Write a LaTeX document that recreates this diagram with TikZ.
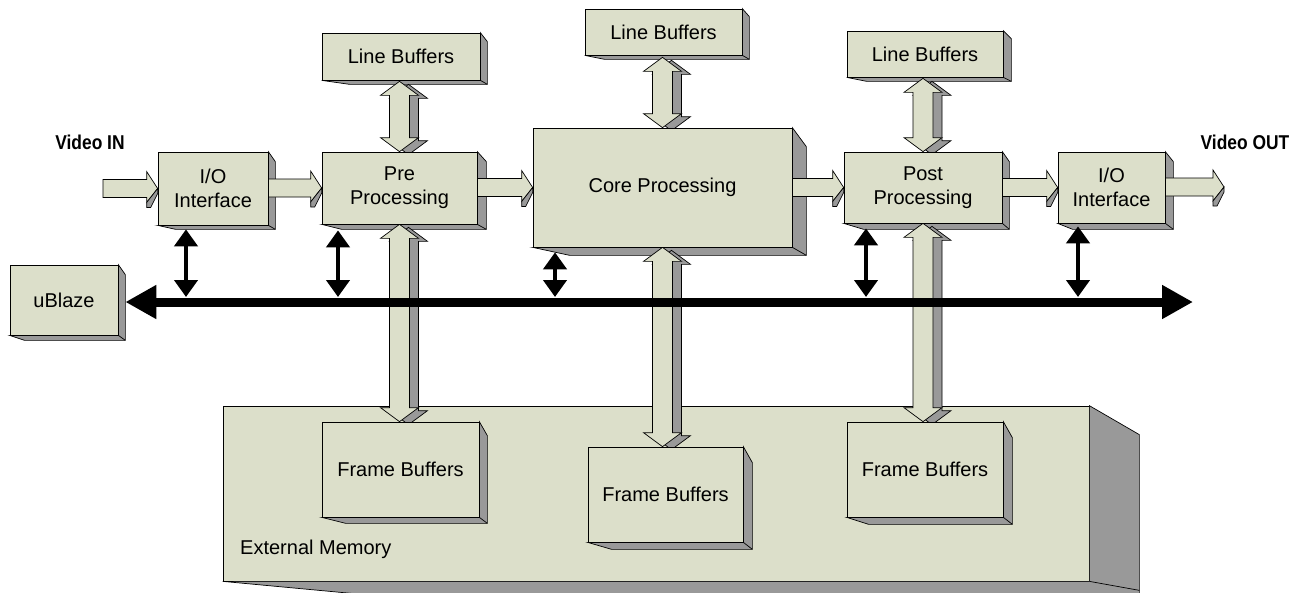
\documentclass[tikz,border=0pt]{standalone}
\usepackage{fontspec}
\setmainfont{Liberation Sans}
\newfontfamily\narrowsans[FakeStretch=0.87]{Liberation Sans}
\usetikzlibrary{calc,arrows.meta}
\pgfdeclarelayer{shadowlayer}
\pgfdeclarelayer{arrowlayer}
\pgfsetlayers{shadowlayer,arrowlayer,main}
\definecolor{face}{HTML}{DCDFCA}
\definecolor{side}{HTML}{999999}
\tikzset{
  blk/.style={draw=black, fill=face, line width=0.7pt, inner sep=0pt, align=center,
    font=\fontsize{20pt}{24pt}\selectfont},
  shadowface/.style={draw=black, fill=side, line width=0.7pt},
  arrface/.style={draw=black, fill=face, line width=0.7pt},
  arrside/.style={draw=black, fill=side, line width=0.7pt},
  bus/.style={line width=9pt, {Triangle[length=31pt,width=32pt]}-{Triangle[length=31pt,width=32pt]}},
  link/.style={line width=4.5pt, {Triangle[length=17pt,width=23pt]}-{Triangle[length=17pt,width=23pt]}},
  ttl/.style={font=\narrowsans\bfseries\fontsize{20pt}{24pt}\selectfont, inner sep=0pt},
  lbl/.style={font=\fontsize{20pt}{24pt}\selectfont, inner sep=0pt},
}
\newcommand\boxshade[5]{%
  \draw[shadowface] (#1.south west) -- ++(#5,#4) -- ($(#1.south east)+(#2,#4)$)
    -- ($(#1.north east)+(#2,#3)$) -- (#1.north east) -- (#1.south east) -- cycle;
  \draw[shadowface] (#1.south east) -- ++(#2,#4);
}
\newcommand\vshape[3]{(#1,#2) -- (#1+19pt,#2-14pt) -- (#1+10pt,#2-14pt) -- (#1+10pt,#3+14pt)
  -- (#1+19pt,#3+14pt) -- (#1,#3) -- (#1-19pt,#3+14pt) -- (#1-10pt,#3+14pt)
  -- (#1-10pt,#2-14pt) -- (#1-19pt,#2-14pt) -- cycle}
\newcommand\vbiarrow[2]{%
  \path[arrside] let \p1=#1, \p2=#2 in \vshape{\x1+9pt}{\y1-3pt}{\y2-3pt};
  \path[arrface] let \p1=#1, \p2=#2 in \vshape{\x1}{\y1}{\y2};
}
\newcommand\harrow[2]{%
  \path[arrface] let \p1=#1, \p2=#2 in (\x1,\y2+9pt) -- (\x2-11pt,\y2+9pt) -- (\x2-11pt,\y2+17pt)
    -- (\x2,\y2) -- (\x2-11pt,\y2-14pt) -- (\x2-11pt,\y2-9pt) -- (\x1,\y2-9pt) -- cycle;
  \path[arrside] let \p2=#2 in (\x2,\y2) -- (\x2,\y2-5pt) -- (\x2-7pt,\y2-19pt)
    -- (\x2-11pt,\y2-19pt) -- (\x2-11pt,\y2-14pt) -- cycle;
}
\begin{document}
\begin{tikzpicture}[x=1pt,y=-1pt]
\useasboundingbox (0,0) rectangle (1300,592);
\clip (0,0) rectangle (1300,592);

% box fronts
\node[blk, minimum width=110pt, minimum height=73pt] (io1) at (213,188.5) {I/O\\Interface};
\node[blk, minimum width=155pt, minimum height=72pt] (pre) at (399.5,188) {Pre\\Processing};
\node[blk, minimum width=158pt, minimum height=47pt] (lb1) at (401,56.5) {Line Buffers};
\node[blk, minimum width=259pt, minimum height=119pt] (core) at (662.5,187.5) {Core Processing};
\node[blk, minimum width=157pt, minimum height=46pt] (lb2) at (663.5,32) {Line Buffers};
\node[blk, minimum width=156pt, minimum height=46pt] (lb3) at (925,54) {Line Buffers};
\node[blk, minimum width=158pt, minimum height=71pt] (post) at (923,187.5) {Post\\Processing};
\node[blk, minimum width=107pt, minimum height=71pt] (io2) at (1111.5,187.5) {I/O\\Interface};
\node[blk, minimum width=108pt, minimum height=70pt] (ub) at (64,300) {uBlaze};
\node[blk, minimum width=157pt, minimum height=95pt] (fb1) at (400.5,469.5) {Frame Buffers};
\node[blk, minimum width=155pt, minimum height=95pt] (fb2) at (665.5,494.5) {Frame Buffers};
\node[blk, minimum width=156pt, minimum height=95pt] (fb3) at (925,469.5) {Frame Buffers};
\node[lbl, anchor=west] (emlbl) at (240,549) {External Memory};
\node[ttl] (vinlbl) at (90,142) {Video IN};
\node[ttl] (voutlbl) at (1245,142) {Video OUT};
\coordinate (vin) at (103,187);
\coordinate (vout) at (1224,187);

% external memory and 3D shading
\begin{pgfonlayer}{shadowlayer}
\node[blk, minimum width=866pt, minimum height=175pt] (em) at (656,493.5) {};
\draw[shadowface] (em.south west) -- ($(em.south west)+(150,14)$) -- ($(em.south east)+(50,14)$)
  -- ($(em.north east)+(50,29)$) -- (em.north east) -- (em.south east) -- cycle;
\draw[shadowface] (em.south east) -- ++(50,9);
\boxshade{io1}{7}{10}{4}{18}
\boxshade{pre}{9}{10}{5}{20}
\boxshade{lb1}{7}{9}{4}{28}
\boxshade{core}{14}{19}{8}{37}
\boxshade{lb2}{7}{8}{4}{20}
\boxshade{lb3}{8}{8}{4}{20}
\boxshade{post}{7}{10}{6}{20}
\boxshade{io2}{8}{10}{6}{15}
\boxshade{ub}{7}{10}{5}{15}
\boxshade{fb1}{8}{14}{6}{24}
\boxshade{fb2}{9}{16}{7}{24}
\boxshade{fb3}{9}{16}{7}{22}
\end{pgfonlayer}

% block arrows
\begin{pgfonlayer}{arrowlayer}
\harrow{(vin)}{(io1.west)}
\harrow{(io1.east)}{(pre.west)}
\harrow{(pre.east)}{(core.west)}
\harrow{(core.east)}{(post.west)}
\harrow{(post.east)}{(io2.west)}
\harrow{(io2.east)}{(vout)}
\vbiarrow{($(lb1.south -| pre.north)+(0,1)$)}{(pre.north)}
\vbiarrow{(pre.south)}{(fb1.north -| pre.south)}
\vbiarrow{($(lb2.south -| core.north)+(0,2)$)}{(core.north)}
\vbiarrow{(core.south)}{(fb2.north -| core.south)}
\vbiarrow{($(lb3.south -| post.north)+(0,1)$)}{(post.north)}
\vbiarrow{(post.south)}{(fb3.north -| post.south)}
\end{pgfonlayer}

% processor bus
\coordinate (busR) at (1193,302);
\coordinate (j1) at (186,297);
\coordinate (j2) at (338,297);
\coordinate (j3) at (555,297);
\coordinate (j4) at (866,297);
\coordinate (j5) at (1078,297);
\draw[bus] ($(ub.east)+(7,2)$) -- (busR);
\draw[link] ($(j1 |- io1.south)+(0,4)$) -- (j1);
\draw[link] ($(j2 |- pre.south)+(0,6)$) -- (j2);
\draw[link] ($(j3 |- core.south)+(0,5)$) -- (j3);
\draw[link] ($(j4 |- post.south)+(0,5)$) -- (j4);
\draw[link] ($(j5 |- io2.south)+(0,3)$) -- (j5);
\end{tikzpicture}
\end{document}
